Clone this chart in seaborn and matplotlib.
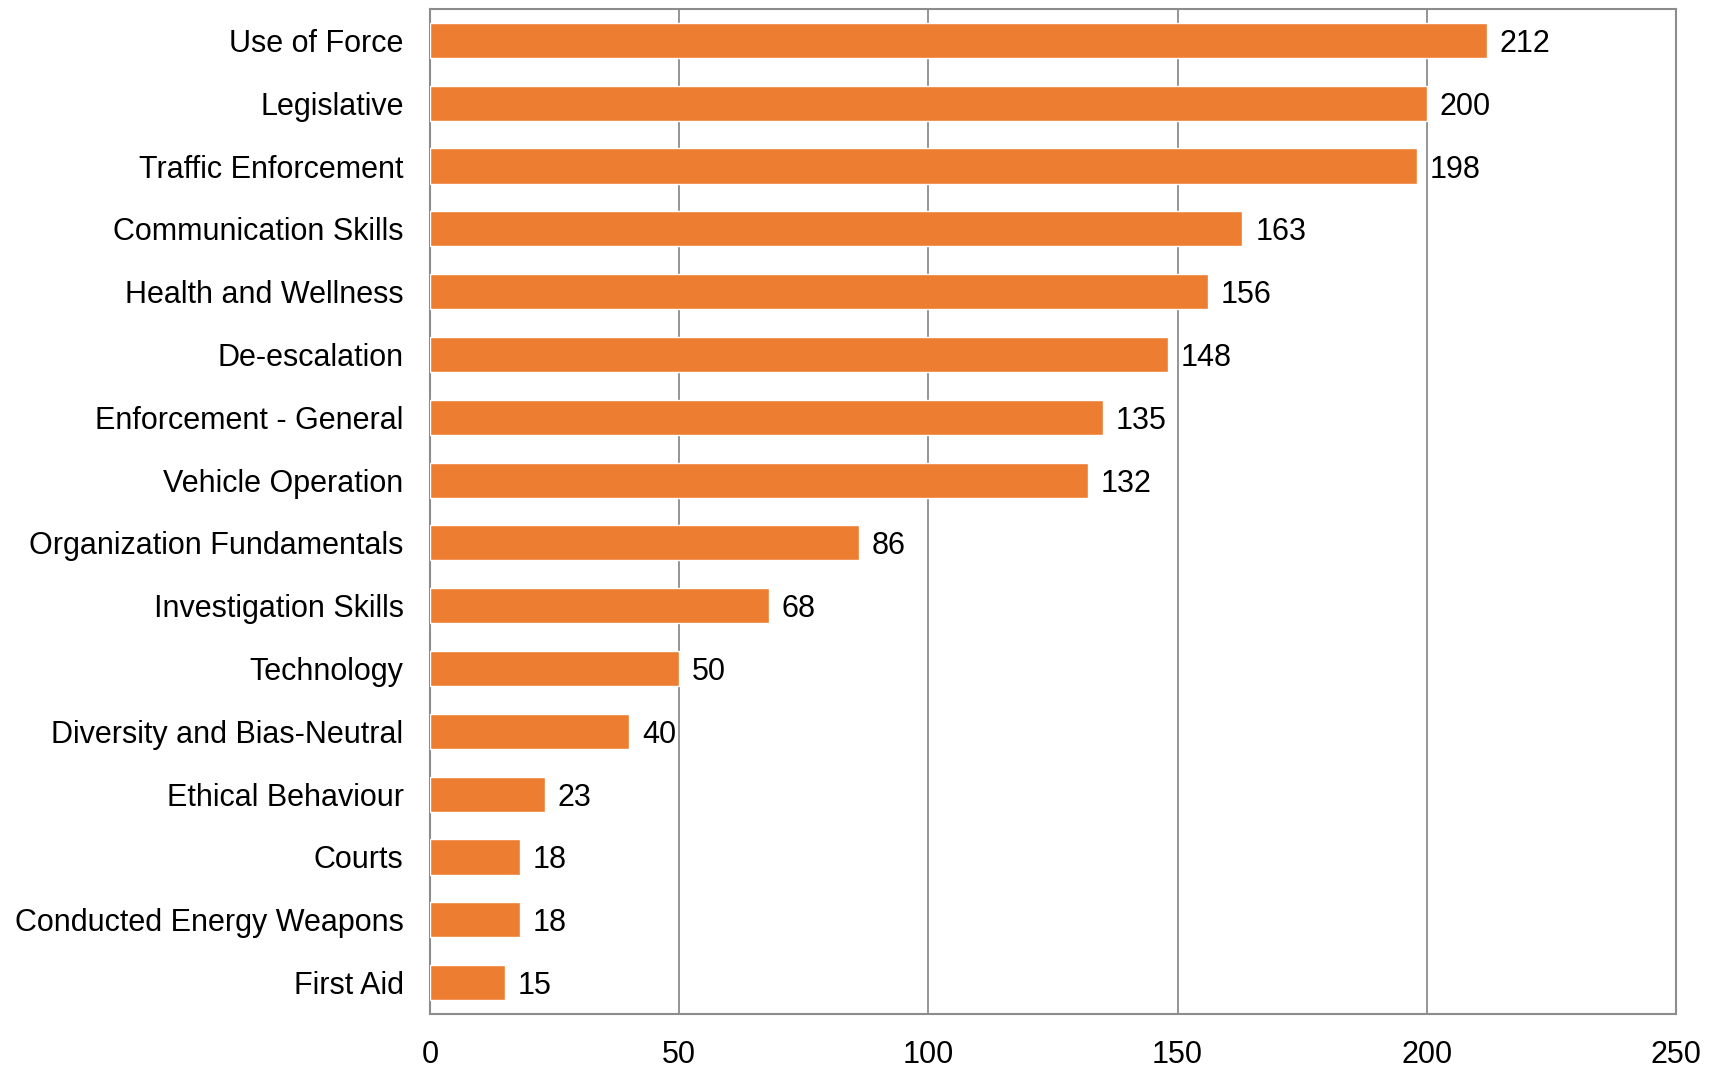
import pandas as pd
import matplotlib.pyplot as plt
import seaborn as sns

categories = ['Use of Force', 'Legislative', 'Traffic Enforcement', 'Communication Skills',
              'Health and Wellness', 'De-escalation', 'Enforcement - General', 'Vehicle Operation',
              'Organization Fundamentals', 'Investigation Skills', 'Technology',
              'Diversity and Bias-Neutral', 'Ethical Behaviour', 'Courts',
              'Conducted Energy Weapons', 'First Aid']
counts = [212, 200, 198, 163, 156, 148, 135, 132, 86, 68, 50, 40, 23, 18, 18, 15]
x_ticks = [0, 50, 100, 150, 200, 250]

df = pd.DataFrame({'category': categories, 'count': counts})

sns.set_style('white')
plt.rcParams['font.family'] = ['Liberation Sans', 'DejaVu Sans']

fig = plt.figure(figsize=(17.19, 10.68), dpi=100)
ax = fig.add_axes([430 / 1719, 1 - 1014 / 1068, (1676 - 430) / 1719, (1014 - 9) / 1068])

sns.barplot(data=df, x='count', y='category', color='#ED7D31', saturation=1,
            width=0.56, ax=ax, zorder=3)

# value labels next to the bars
for i, v in enumerate(counts):
    ax.text(v + 2.6, i, str(v), va='center_baseline', ha='left', fontsize=22, color='black')

ax.set_xlim(0, 250)
ax.set_xticks(x_ticks)
ax.set_ylim(len(categories) - 0.5, -0.5)
ax.xaxis.grid(True, color='#8c8c8c', linewidth=1.3, zorder=0)
ax.yaxis.grid(False)
ax.set_axisbelow(True)
for s in ax.spines.values():
    s.set_color('#8c8c8c')
    s.set_linewidth(1.5)
ax.tick_params(axis='x', length=0, pad=19, labelsize=22, labelcolor='black')
ax.tick_params(axis='y', length=0, pad=19, labelsize=22, labelcolor='black')
ax.set_xlabel('')
ax.set_ylabel('')

plt.savefig('out.png', dpi=100)
